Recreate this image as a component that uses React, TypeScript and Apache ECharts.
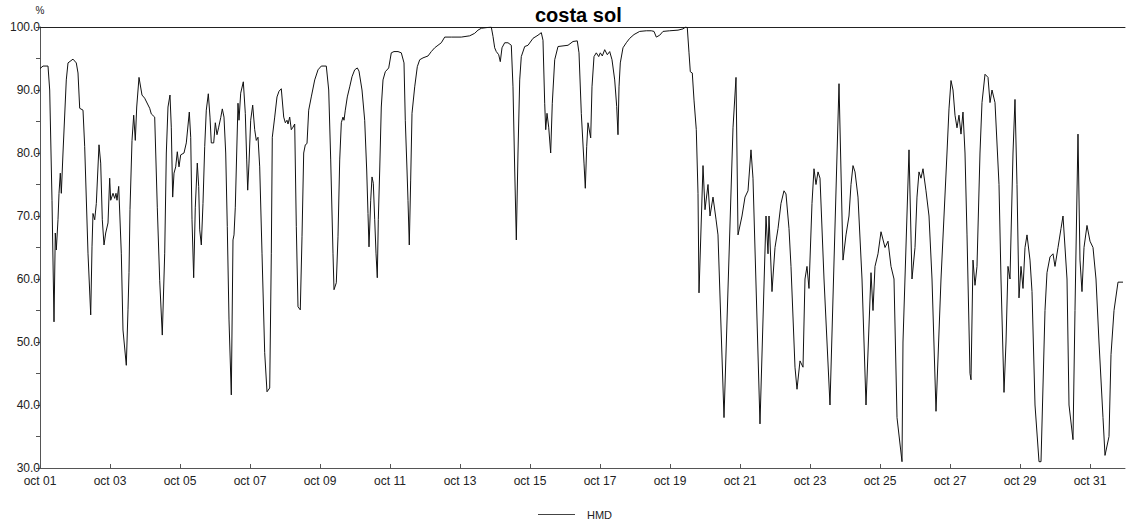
import React, { useEffect, useRef } from "react";
import * as echarts from "echarts";

// time in days since oct 01 00:00
const days: number[] = [
  0, 0.086, 0.229, 0.277, 0.343, 0.4, 0.437, 0.466, 0.514, 0.543, 0.58, 0.609, 0.657, 0.751, 0.8, 0.943,
  1.037, 1.086, 1.134, 1.229, 1.277, 1.371, 1.449, 1.486, 1.514, 1.563, 1.609, 1.686, 1.734, 1.78, 1.829, 1.877, 1.943,
  1.991, 2.02, 2.086, 2.134, 2.171, 2.2, 2.249, 2.323, 2.371, 2.466, 2.514, 2.543, 2.571, 2.629, 2.677, 2.723, 2.763, 2.829, 2.914, 2.991,
  3.134, 3.18, 3.277, 3.351, 3.42, 3.494, 3.563, 3.609, 3.657, 3.714, 3.751, 3.791, 3.829, 3.877, 3.923, 3.971,
  4.02, 4.114, 4.18, 4.266, 4.306, 4.343, 4.391, 4.437, 4.494, 4.534, 4.563, 4.609, 4.657, 4.706, 4.751, 4.809, 4.857, 4.894, 4.963,
  5.009, 5.057, 5.106, 5.163, 5.209, 5.257, 5.306, 5.351, 5.4, 5.466, 5.514, 5.543, 5.58, 5.62, 5.657, 5.686, 5.734, 5.809, 5.866, 5.906, 5.934, 5.971,
  6.02, 6.077, 6.134, 6.18, 6.229, 6.277, 6.343, 6.42, 6.486, 6.563, 6.609, 6.637, 6.706, 6.771, 6.829, 6.894, 6.963,
  7.009, 7.057, 7.086, 7.134, 7.18, 7.229, 7.277, 7.323, 7.371, 7.437, 7.486, 7.534, 7.58, 7.629, 7.677, 7.751, 7.849, 7.943,
  8.037, 8.18, 8.249, 8.306, 8.371, 8.4, 8.466, 8.514, 8.563, 8.609, 8.657, 8.686, 8.723, 8.78, 8.849, 8.914, 8.991,
  9.066, 9.114, 9.2, 9.277, 9.334, 9.371, 9.4, 9.449, 9.486, 9.523, 9.563, 9.6, 9.637, 9.666, 9.706, 9.751, 9.8, 9.866, 9.963,
  10.037, 10.114, 10.229, 10.323, 10.4, 10.437, 10.486, 10.514, 10.551, 10.591, 10.629, 10.706, 10.78, 10.849, 10.943,
  11.086, 11.18, 11.277, 11.371, 11.466, 11.563, 11.751, 12.037, 12.277, 12.42, 12.514, 12.609, 12.894, 12.943, 12.991,
  13.037, 13.106, 13.151, 13.2, 13.277, 13.371, 13.466, 13.514, 13.563, 13.609, 13.657, 13.706, 13.751, 13.849, 13.943,
  14.086, 14.229, 14.323, 14.371, 14.42, 14.449, 14.486, 14.534, 14.591, 14.637, 14.706, 14.8, 14.943,
  15.086, 15.229, 15.351, 15.4, 15.466, 15.543, 15.58, 15.62, 15.657, 15.734, 15.771, 15.829, 15.894, 15.963,
  16.009, 16.066, 16.134, 16.209, 16.277, 16.343, 16.42, 16.477, 16.514, 16.543, 16.58, 16.657, 16.751, 16.849, 16.971,
  17.134, 17.323, 17.466, 17.543, 17.609, 17.706, 17.8, 17.991, 18.229, 18.371, 18.449, 18.494, 18.543, 18.58, 18.637, 18.686, 18.751, 18.8, 18.829,
  18.943, 19.0, 19.086, 19.143, 19.229, 19.314, 19.371, 19.543, 19.8, 19.886, 19.943,
  20.057, 20.143, 20.229, 20.314, 20.371, 20.571, 20.743, 20.8, 20.829, 20.914,
  21.0, 21.086, 21.171, 21.257, 21.314, 21.4, 21.457, 21.571, 21.629, 21.714, 21.8, 21.857, 21.914, 21.971,
  22.057, 22.114, 22.171, 22.229, 22.286, 22.4, 22.571, 22.829, 22.943,
  23.029, 23.114, 23.171, 23.229, 23.286, 23.371, 23.486, 23.6, 23.743, 23.8, 23.857, 23.943,
  24.029, 24.143, 24.229, 24.314, 24.4, 24.486, 24.629, 24.657, 24.829, 24.914, 25.0, 25.057, 25.114, 25.171, 25.229,
  25.314, 25.4, 25.486, 25.6, 25.743, 25.829, 25.914, 25.971, 26.029, 26.086, 26.143, 26.2, 26.257, 26.314, 26.371, 26.429, 26.486, 26.571, 26.6,
  26.657, 26.714, 26.771, 26.857, 26.914, 27.0, 27.086, 27.143, 27.2, 27.286, 27.4, 27.457, 27.543, 27.6, 27.657, 27.714, 27.8, 27.857, 27.914,
  27.971, 28.029, 28.086, 28.143, 28.2, 28.286, 28.343, 28.429, 28.543, 28.6, 28.714, 28.771, 28.857, 28.943, 29.0, 29.086, 29.171,
  29.229, 29.343, 29.4, 29.514, 29.571, 29.657, 29.714, 29.771, 29.829, 29.914, 30.0, 30.086, 30.171, 30.257, 30.371, 30.429, 30.543, 30.6,
  30.686, 30.8, 30.943,
];

const hmd: number[] = [
  93.4, 93.8, 93.8, 90, 72.5, 53.2, 67.3, 64.6, 69.4, 73.6, 76.8, 73.6, 80, 91.6, 94.3, 94.9,
  94.3, 92.7, 87.1, 86.8, 81, 64.1, 54.3, 65.1, 70.4, 69.4, 72, 81.3, 78.4, 69.4, 65.4, 67.3, 68.9,
  76, 72.5, 73.6, 72.8, 73.6, 72.5, 74.7, 64.1, 51.9, 46.3, 55.1, 61, 71, 82, 86, 82, 87.3, 92, 89.2, 88.7,
  87.1, 86.2, 85.7, 71.4, 59.8, 51.1, 64.1, 80, 87.3, 89.2, 84.1, 73, 76.8, 77.8, 80.2, 77.8,
  79.7, 80, 81.6, 86.5, 82.5, 69.4, 60.2, 71.4, 78.4, 74.7, 67.8, 65.4, 72, 81, 86.8, 89.4, 85.7, 81.6, 81.6,
  84.8, 82.9, 84.1, 85.6, 87, 85.7, 80, 68.3, 53.5, 41.6, 66.2, 67, 71.4, 80, 87.9, 85.2, 89.5, 91.3, 86.3, 78.9, 74.1, 78.4,
  85.2, 87.6, 83.7, 82, 82.5, 77.8, 64.1, 48.3, 42.1, 42.7, 64.1, 82.5, 85.7, 88.9, 89.8, 90.2, 85.7,
  84.8, 85.2, 84.6, 85.7, 83.7, 84.1, 84.6, 68.3, 55.6, 55.1, 66.7, 80, 81.3, 81.5, 86.8, 88.9, 91.6, 93.2,
  93.8, 93.8, 90, 78.9, 64.1, 58.3, 59.4, 66.7, 78.9, 84.8, 85.7, 85.2, 86.8, 88.9, 90.5, 92.1, 93.2,
  93.5, 93, 90, 85.2, 77.3, 70.4, 65.1, 72.5, 76.2, 75.2, 69.4, 64.1, 60.2, 69.4, 77.3, 87.3, 91.6, 92.9, 93.5,
  95.9, 96.1, 96.1, 95.9, 94.3, 85.2, 77.3, 72.5, 65.4, 75.7, 86.3, 90.5, 93.7, 94.8, 95.1,
  95.4, 96.1, 96.7, 97.1, 97.5, 98.4, 98.4, 98.4, 98.6, 99, 99.5, 99.8, 100, 98.5, 96.7,
  96.1, 95.6, 94.5, 96.7, 97.5, 97.5, 97.1, 90.5, 77.3, 66.2, 80, 91.6, 95.3, 96.9, 97.1,
  98.2, 98.7, 99.1, 97.9, 87.9, 83.7, 86.3, 84.1, 80, 87.9, 94.8, 96.9, 97,
  97.1, 97.7, 97.8, 95.9, 86.3, 78.4, 74.4, 81, 84.8, 82.4, 90.5, 95.3, 95.9, 95.3,
  95.9, 95.4, 96.4, 95.6, 96.1, 94.8, 91.6, 87.4, 82.9, 90.5, 94.3, 96.7, 97.5, 98.2, 98.8,
  99.3, 99.4, 99.4, 99.3, 98.4, 98.7, 99.3, 99.4, 99.5, 99.7, 100, 99.9, 95.9, 92.9, 92.7, 88.4, 83.7, 73.6, 57.8,
  78, 71, 75, 70, 73, 69.5, 67, 38, 84, 92, 67,
  70, 73, 74, 80.5, 76, 37, 70, 64, 70, 58,
  65, 68, 72, 74, 73.5, 68, 62, 46, 42.5, 47, 46, 60, 62, 58.5,
  72, 77.5, 75, 77, 76, 60, 40, 91, 63,
  67, 70, 75, 78, 77, 73, 60, 40, 61, 55, 62, 64,
  67.5, 65, 66, 62, 60, 38, 31, 50, 80.5, 60, 65, 73, 77, 76, 77.5,
  74, 70, 60, 39, 60, 70, 80, 87, 91.5, 90, 86, 84, 86, 83, 86.5, 80, 67, 45, 44,
  63, 59, 62, 80, 88, 92.5, 92, 88, 90, 88, 75, 60, 42, 50, 62, 60, 80, 88.5, 75,
  57, 62, 58.5, 65, 67, 63, 58, 40, 31, 31, 55, 61, 63.5, 64, 62, 65, 68,
  70, 60, 40, 34.5, 55, 83, 63, 58, 65, 68.5, 66, 65, 60, 50, 38, 32, 35, 48,
  55, 59.5, 59.5,
];

const yTicks = [30, 40, 50, 60, 70, 80, 90, 100];
const monthLabel = "oct";
const seriesName = "HMD";
const titleText = "costa sol";

export default function App() {
  const ref = useRef<HTMLDivElement>(null);
  useEffect(() => {
    if (!ref.current) return;
    const chart = echarts.init(ref.current, undefined, { renderer: "svg" });
    const n = Math.min(days.length, hmd.length);
    const data = [] as number[][];
    for (let i = 0; i < n; i++) data.push([days[i], hmd[i]]);
    const font = "Liberation Sans, Arial, sans-serif";
    chart.setOption({
      animation: false,
      backgroundColor: "#fff",
      textStyle: { fontFamily: font },
      title: {
        text: titleText,
        left: 530,
        top: 0,
        textStyle: { fontFamily: font, fontSize: 20, fontWeight: "bold", color: "#000" },
      },
      legend: {
        data: [{ name: seriesName, icon: "rect" }],
        left: 533,
        top: 504,
        itemWidth: 37,
        itemHeight: 1,
        itemStyle: { color: "#444", borderWidth: 0 },
        textStyle: { fontFamily: font, fontSize: 11, color: "#222", padding: [0, 0, 0, 7] },
      },
      grid: { left: 40, right: 1, top: 27, bottom: 55, containLabel: false },
      xAxis: [
        {
          type: "value",
          min: 0,
          max: 31,
          interval: 2,
          axisLine: { show: true, lineStyle: { color: "#555", width: 1 } },
          axisTick: { show: true, inside: true, length: 4, lineStyle: { color: "#555" } },
          splitLine: { show: false },
          axisLabel: {
            fontFamily: font,
            fontSize: 12,
            color: "#222",
            margin: 7,
            showMaxLabel: false,
            formatter: (v: number) => {
              const d = Math.round(v) + 1;
              return monthLabel + " " + (d < 10 ? "0" + d : String(d));
            },
          },
        },
        {
          type: "value",
          position: "top",
          min: 0,
          max: 31,
          axisLine: { show: true, onZero: false, lineStyle: { color: "#222", width: 1 } },
          axisTick: { show: false },
          axisLabel: { show: false },
          splitLine: { show: false },
        },
      ],
      yAxis: {
        type: "value",
        min: yTicks[0],
        max: yTicks[yTicks.length - 1],
        interval: 10,
        name: "%",
        nameLocation: "end",
        nameGap: 12,
        nameTextStyle: { fontFamily: font, fontSize: 10, color: "#222", align: "center" },
        axisLine: { show: true, lineStyle: { color: "#555", width: 1 } },
        axisTick: { show: true, length: 4, lineStyle: { color: "#555" } },
        minorTick: { show: true, splitNumber: 2, length: 4, lineStyle: { color: "#555" } },
        splitLine: { show: false },
        axisLabel: {
          fontFamily: font,
          fontSize: 12,
          color: "#222",
          margin: 0,
          formatter: (v: number) => v.toFixed(1),
        },
      },
      series: [
        {
          name: seriesName,
          type: "line",
          data,
          xAxisIndex: 0,
          symbol: "none",
          showSymbol: false,
          lineStyle: { color: "#111", width: 1 },
          itemStyle: { color: "#444" },
          clip: true,
        },
      ],
    });
    return () => chart.dispose();
  }, []);
  return <div ref={ref} style={{ width: 1126, height: 523, position: "absolute", left: 0, top: 0 }} />;
}
